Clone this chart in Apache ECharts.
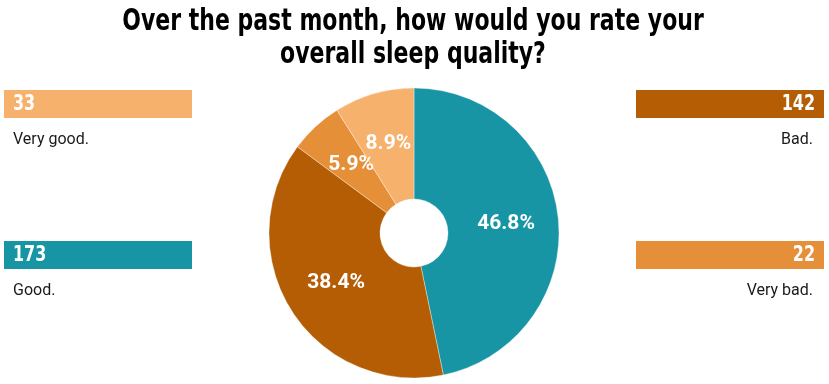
<!DOCTYPE html>
<html>
<head>
<meta charset="utf-8">
<script src="https://cdn.jsdelivr.net/npm/echarts@6/dist/echarts.min.js"></script>
<style>
  html, body { margin: 0; padding: 0; background: #fff; }
  #main { width: 829px; height: 384px; }
</style>
</head>
<body>
<div id="main"></div>
<script>
let titleText = "Over the past month, how would you rate your\noverall sleep quality?";
let categories = ["Good.", "Bad.", "Very bad.", "Very good."];
let counts = [173, 142, 22, 33];
let colors = ["#1795a5", "#b45d05", "#e68f39", "#f6b16c"];
// where each answer's panel sits: side and row
let panelSide = ["left", "right", "right", "left"];
let panelRow = [1, 0, 1, 0];

let dom = document.getElementById("main");
let myChart = echarts.init(dom, null, { renderer: "canvas" });

// no condensed font installed, so squeeze a bold face horizontally
let boldFace = "'DejaVu Sans', sans-serif";

let graphics = [{
    type: "text",
    x: 413,
    y: 5,
    scaleX: 0.71,
    style: {
        text: titleText,
        fill: "#000",
        font: "bold 31px " + boldFace,
        lineHeight: 33,
        align: "center",
        verticalAlign: "top"
    }
}];

categories.forEach(function (name, i) {
    let left = panelSide[i] === "left";
    let x = left ? 4 : 636;
    let y = panelRow[i] === 0 ? 90 : 241;
    graphics.push({
        type: "rect",
        shape: { x: x, y: y, width: 188, height: 28 },
        style: { fill: colors[i] }
    });
    graphics.push({
        type: "text",
        x: left ? x + 9 : x + 179,
        y: y + 15,
        scaleX: 0.76,
        style: {
            text: String(counts[i]),
            fill: "#fff",
            font: "bold 21px " + boldFace,
            align: left ? "left" : "right",
            verticalAlign: "middle"
        }
    });
    graphics.push({
        type: "text",
        x: left ? x + 9 : x + 177,
        y: y + 50,
        style: {
            text: name,
            fill: "#1a1a1a",
            font: "16px Roboto, sans-serif",
            align: left ? "left" : "right",
            verticalAlign: "middle"
        }
    });
});

let option = {
    graphic: graphics,
    series: [{
        type: "pie",
        center: [414, 233],
        radius: [34, 145],
        startAngle: 90,
        clockwise: true,
        percentPrecision: 1,
        animation: false,
        itemStyle: {
            borderColor: "rgba(255,255,255,0.35)",
            borderWidth: 1
        },
        label: {
            position: "inside",
            formatter: "{d}%",
            color: "#fff",
            fontFamily: "Roboto, sans-serif",
            fontWeight: "bold",
            fontSize: 21
        },
        labelLine: { show: false },
        data: categories.map(function (name, i) {
            return { name: name, value: counts[i], itemStyle: { color: colors[i] } };
        })
    }]
};

myChart.setOption(option);
window.addEventListener("resize", myChart.resize);
</script>
</body>
</html>
